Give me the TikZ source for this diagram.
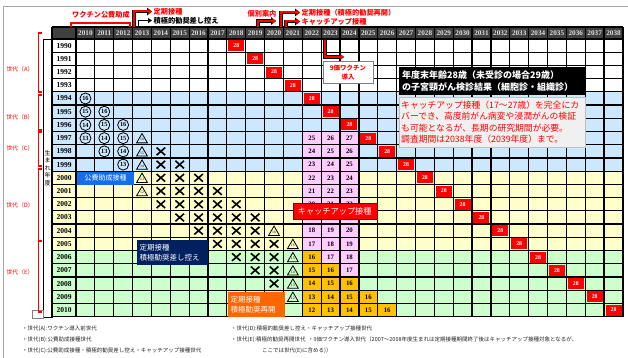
\documentclass[tikz,border=0pt]{standalone}
\usepackage{fontspec}
\setmainfont{Liberation Serif}
\newfontfamily\jp{Noto Sans CJK JP}
\usetikzlibrary{positioning,arrows.meta,shapes.geometric,shapes.misc}
\definecolor{hdrgray}{RGB}{64,64,64}
\definecolor{genblue}{RGB}{204,232,255}
\definecolor{genyellow}{RGB}{255,255,204}
\definecolor{gengreen}{RGB}{204,255,204}
\definecolor{catchpink}{RGB}{255,204,255}
\definecolor{routinegold}{RGB}{255,192,0}
\definecolor{navylabel}{RGB}{0,32,96}
\definecolor{bluelabel}{RGB}{20,110,235}
\definecolor{orangelabel}{RGB}{255,102,0}
\definecolor{notegray}{RGB}{240,240,240}

\begin{document}
\begin{tikzpicture}[x=1pt, y=-1pt,
  gridline/.style={black, line width=1.2pt},
  yearhead/.style={text=white!88!black, font=\bfseries\fontsize{7.2}{7.2}\selectfont, inner sep=0pt},
  yearrow/.style={font=\bfseries\fontsize{7.5}{7.5}\selectfont, inner sep=0pt},
  age28/.style={fill=red, text=white, minimum width=16pt, minimum height=11pt, inner sep=0pt, font=\bfseries\fontsize{5.8}{5.8}\selectfont},
  catchup/.style={fill=catchpink, minimum width=18.86pt, minimum height=13.22pt, inner sep=0pt, font=\bfseries\fontsize{6.8}{6.8}\selectfont},
  routine/.style={catchup, fill=routinegold},
  subsidy/.style={circle, draw, line width=0.8pt, inner sep=0pt, minimum size=11pt, font=\bfseries\fontsize{6.3}{6.3}\selectfont},
  withheld/.style={cross out, draw, line width=1.6pt, inner sep=0pt, minimum width=7pt, minimum height=6pt},
  recheck/.style={regular polygon, regular polygon sides=3, draw, line width=0.8pt, inner sep=0pt, minimum size=12.5pt, font=\fontsize{3.8}{3.8}\selectfont},
  genbrace/.style={red, line width=1.3pt},
  genlabel/.style={text=red, font=\jp\fontsize{5.8}{5.8}\selectfont, inner sep=0pt},
  toplabel/.style={font=\jp\bfseries\fontsize{7.2}{7.2}\selectfont, inner sep=0pt},
  rimarrow/.style={black, line width=3.2pt, -{Triangle[length=5pt,width=7.5pt]}},
  redarrow/.style={red, line width=2pt, -{Triangle[length=3.6pt,width=5.4pt]}},
  legend/.style={font=\jp\fontsize{5.5}{5.5}\selectfont, anchor=west, inner sep=0pt, text=black!85}
]
\useasboundingbox (0,0) rectangle (628,358);
\fill[white] (0,0) rectangle (628,358);
\draw[gray!70, line width=0.8pt] (3,358) -- (3,6) -- (628,6);

% the table
\begin{scope}[shift={(76,39)}, x=18.86pt, y=-13.22pt]
  \fill[genblue] (-1.2725,4) rectangle (29,10);
  \fill[genyellow] (-1.2725,10) rectangle (29,16);
  \fill[gengreen] (-1.2725,16) rectangle (29,21);
  \fill[hdrgray] (-1.2725,-0.908) rectangle (29,0);
  % catch-up / routine ages
  \foreach \r in {7,...,20}{
    \pgfmathtruncatemacro\last{\r<19 ? 14 : \r-4}
    \foreach \c in {12,...,\last}{
      \pgfmathtruncatemacro\age{20+\c-\r}
      \ifnum\age>16
        \node[catchup] (k\c-\r) at (\c+.5,\r+.5) {\age};
      \else
        \node[routine] (k\c-\r) at (\c+.5,\r+.5) {\age};
      \fi
    }
  }
  % grid
  \foreach \r in {0,...,21} \draw[gridline] (-1.2725,\r) -- (29,\r);
  \draw[gridline] (-1.2725,-0.908) -- (29,-0.908);
  \foreach \c in {0,...,29} \draw[gridline] (\c,-0.908) -- (\c,21);
  \draw[gridline] (-1.2725,-0.908) -- (-1.2725,21);
  % screening at 28
  \foreach \b in {0,...,20} \node[age28] (s\b) at (\b+8.5,\b+.5) {28};
  % years
  \foreach \c [evaluate=\c as \yr using int(2010+\c)] in {0,...,28}
    \node[yearhead] (h\yr) at (\c+.5,-0.454) {\yr};
  \foreach \b [evaluate=\b as \yr using int(1990+\b)] in {0,...,20}
    \node[yearrow] (b\yr) at (-0.636,\b+.5) {\yr};
  % subsidised doses
  \foreach \c/\r in {0/4,0/5,1/5,0/6,1/6,2/6,0/7,1/7,2/7,1/8,2/8,2/9}{
    \pgfmathtruncatemacro\age{20+\c-\r}
    \node[subsidy] (o\c-\r) at (\c+.5,\r+.5) {\age};
  }
  \foreach \c/\r in {3/7,3/8,3/9,3/10,3/11,10/14,11/15,11/16,11/17,11/18,11/19}{
    \pgfmathtruncatemacro\age{20+\c-\r}
    \node[recheck] (t\c-\r) at (\c+.5,\r+.62) {\age};
  }
  \foreach \r in {8,...,18}{
    \pgfmathtruncatemacro\lo{max(4,\r-8)}
    \pgfmathtruncatemacro\hi{\r==14 ? 9 : min(10,\r-4)}
    \foreach \c in {\lo,...,\hi}
      \node[withheld] (x\c-\r) at (\c+.5,\r+.5) {};
  }
\end{scope}

% birth-year column
\draw[black, line width=0.9pt] (43,39) rectangle (52,317);
\node[font=\jp\fontsize{6}{7.5}\selectfont, align=center, inner sep=0pt] (birthaxis) at (47.5,168) {生\\ま\\れ\\年\\度};
\draw[gray, line width=0.6pt] (32,310) rectangle (43,318);

% generations
\draw[genbrace] (42,33) -- (38.3,33) -- (38.3,92) -- (42,92);
\draw[genbrace] (42,95) -- (38.3,95) -- (38.3,130) -- (42,130);
\draw[genbrace] (42,132) -- (38.3,132) -- (38.3,166) -- (42,166);
\draw[genbrace] (42,169) -- (38.3,169) -- (38.3,241) -- (42,241);
\draw[genbrace] (42,241) -- (38.3,241) -- (38.3,312) -- (42,312);
\node[genlabel] (genA) at (20,69) {世代（A）};
\node[genlabel] (genB) at (20,117) {世代（B）};
\node[genlabel] (genC) at (20,148) {世代（C）};
\node[genlabel] (genD) at (20,205) {世代（D）};
\node[genlabel] (genE) at (20,272) {世代（E）};

% labels on the table
\node[fill=bluelabel, text=white, font=\jp\fontsize{7}{8}\selectfont, minimum width=57pt, minimum height=13.3pt, inner sep=1pt] (subsidylabel) at (105.5,178.3) {公費助成接種};
\node[fill=navylabel, text=white, font=\jp\fontsize{7.5}{9.5}\selectfont, align=left, text width=66pt, minimum height=25pt, inner sep=2.5pt] (withheldlabel) at (172.5,252.5) {定期接種\\積極勧奨差し控え};
\node[fill=red, draw=red!55!black, text=white, font=\jp\fontsize{8.2}{9}\selectfont, minimum width=84pt, minimum height=16pt, inner sep=1pt] (catchlabel) at (334.7,211) {キャッチアップ接種};
\node[fill=orangelabel, text=white, font=\jp\fontsize{7.5}{10}\selectfont, align=left, text width=52pt, minimum height=25pt, inner sep=2.5pt] (resumelabel) at (256.5,304.2) {定期接種\\積極勧奨再開};
\node[draw=gray, fill=white, text=red, font=\jp\bfseries\fontsize{6.5}{8.5}\selectfont, align=center, minimum width=50.6pt, minimum height=21.6pt, inner sep=1pt] (ninevalent) at (348,72.5) {9価ワクチン\\導入};
\node[fill=black, text=white, font=\jp\bfseries\fontsize{9}{12}\selectfont, align=left, text width=180pt, minimum height=28pt, inner sep=3pt, anchor=north west] (screenbox) at (399,67) {年度末年齢28歳（未受診の場合29歳）\\の子宮頸がん検診結果（細胞診・組織診）};
\node[fill=notegray, draw=gray!50, text=red, font=\jp\fontsize{8.8}{11.4}\selectfont, align=left, text width=182pt, minimum height=50pt, inner sep=2pt, anchor=north west] (studynote) at (399,97) {キャッチアップ接種（17～27歳）を完全にカ\\バーでき、高度前がん病変や浸潤がんの検証\\も可能となるが、長期の研究期間が必要。\\調査期間は2038年度（2039年度）まで。};

% policy timeline above the header
\node[toplabel, text=red] (subsidytitle) at (101,15) {ワクチン公費助成};
\coordinate (subL) at (71,27);
\coordinate (subR) at (130,27);
\draw[red, line width=1.2pt] (subL) |- (101,23) -| (subR);

\coordinate (r13) at (134,27);
\coordinate (r13tip) at (152,11.5);
\coordinate (k13) at (138.5,27);
\coordinate (k13tip) at (152,20.5);
\draw[rimarrow] (r13) |- (r13tip);
\draw[redarrow] (r13) |- (r13tip);
\draw[black, line width=1.3pt, -{Triangle[length=4pt,width=5pt]}] (k13) |- (k13tip);
\node[toplabel, text=red, right=1.5pt of r13tip] (routine13) {定期接種};
\node[toplabel, right=1.5pt of k13tip] (withheld13) {積極的勧奨差し控え};

\node[toplabel, text=red] (notice19) at (262,14) {個別案内};
\coordinate (i19) at (258,27);
\coordinate (i19tip) at (276,21);
\draw[rimarrow] (i19) |- (i19tip);
\draw[redarrow] (i19) |- (i19tip);

\coordinate (r21) at (281,27);
\coordinate (r21tip) at (300,12.5);
\coordinate (c21) at (286,27);
\coordinate (c21tip) at (300,21.5);
\draw[rimarrow] (r21) |- (r21tip);
\draw[redarrow] (r21) |- (r21tip);
\draw[rimarrow] (c21) |- (c21tip);
\draw[redarrow] (c21) |- (c21tip);
\node[toplabel, text=red, right=1.5pt of r21tip] (resume21) {定期接種（積極的勧奨再開）};
\node[toplabel, text=red, right=1.5pt of c21tip] (catch21) {キャッチアップ接種};

\coordinate (n23) at (325,40);
\coordinate (n23tip) at (344,57);
\draw[rimarrow] (n23) |- (n23tip);
\draw[redarrow] (n23) |- (n23tip);

% legend
\node[legend] (legA) at (22,329) {・世代(A):ワクチン導入前世代};
\node[legend] (legB) at (22,340) {・世代(B):公費助成接種世代};
\node[legend] (legC) at (22,351) {・世代(C):公費助成接種・積極的勧奨差し控え・キャッチアップ接種世代};
\node[legend] (legD) at (231,329) {・世代(D):積極的勧奨差し控え・キャッチアップ接種世代};
\node[legend] (legE) at (231,340) {・世代(E):積極的勧奨再開世代\ \ ・9価ワクチン導入世代（2007～2008年度生まれは定期接種期間終了後はキャッチアップ接種対象となるが、};
\node[legend] (legE2) at (262,351) {ここでは世代(E)に含める)）};
\end{tikzpicture}
\end{document}
